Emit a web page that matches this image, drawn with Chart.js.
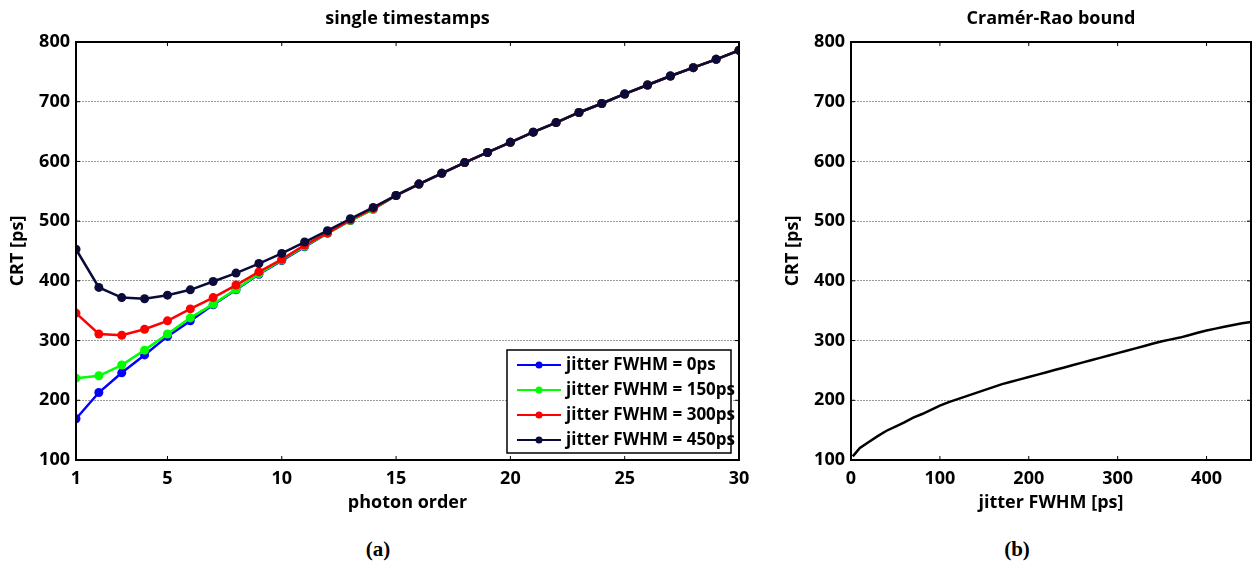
<!DOCTYPE html>
<html>
<head>
<meta charset="utf-8">
<script src="https://cdn.jsdelivr.net/npm/chart.js@4/dist/chart.umd.min.js"></script>
<style>
    body { margin: 0; background: #fff; width: 1254px; height: 567px; position: relative; overflow: hidden; }
    .painel { position: absolute; top: 0; height: 520px; }
    #painel-a { left: 0; width: 760px; }
    #painel-b { left: 770px; width: 484px; }
    .rotulo { position: absolute; top: 537px; font: bold 21px 'Liberation Serif', serif; transform: translateX(-50%); }
</style>
</head>
<body>
<div class="painel" id="painel-a"><canvas id="grafico-ordem"></canvas></div>
<div class="painel" id="painel-b"><canvas id="grafico-crb"></canvas></div>
<div class="rotulo" style="left:378px">(a)</div>
<div class="rotulo" style="left:1017px">(b)</div>

<script>
// Dados (a)
const ordemFoton = [1, 2, 3, 4, 5, 6, 7, 8, 9, 10, 11, 12, 13, 14, 15, 16, 17, 18, 19, 20, 21, 22, 23, 24, 25, 26, 27, 28, 29, 30];
const crtJitter0   = [169, 213, 246, 276, 307, 333, 360, 385, 411, 434, 457, 480, 501, 520, 543, 562, 580, 598, 615, 632, 649, 665, 682, 697, 713, 728, 743, 757, 771, 786];
const crtJitter150 = [237, 241, 259, 284, 311, 338, 361, 386, 412, 435, 458, 480, 501, 520, 543, 562, 580, 598, 615, 632, 649, 665, 682, 697, 713, 728, 743, 757, 771, 786];
const crtJitter300 = [346, 311, 309, 319, 333, 353, 372, 393, 415, 436, 460, 480, 502, 521, 543, 562, 580, 598, 615, 632, 649, 665, 682, 697, 713, 728, 743, 757, 771, 786];
const crtJitter450 = [453, 389, 372, 370, 376, 385, 399, 413, 429, 446, 465, 484, 504, 523, 543, 562, 580, 598, 615, 632, 649, 665, 682, 697, 713, 728, 743, 757, 771, 786];
const rotulosSeries = ['jitter FWHM = 0ps', 'jitter FWHM = 150ps', 'jitter FWHM = 300ps', 'jitter FWHM = 450ps'];
const ticksOrdem = [1, 5, 10, 15, 20, 25, 30];

// Dados (b)
const jitterFwhm = [2, 10, 20, 30, 40, 50, 60, 70, 80, 90, 100, 110, 120, 130, 140, 150, 160, 170, 180, 190, 200, 210, 220, 230, 240, 250, 260, 270, 280, 290, 300, 310, 320, 330, 340, 350, 360, 370, 380, 390, 400, 410, 420, 430, 440, 450];
const crbValores = [106, 120, 130, 140, 149, 156, 163, 171, 177, 184, 191, 197, 202, 207, 212, 217, 222, 227, 231, 235, 239, 243, 247, 251, 255, 259, 263, 267, 271, 275, 279, 283, 287, 291, 295, 299, 302, 305, 309, 313, 317, 320, 323, 326, 329, 331];
const ticksJitter = [0, 100, 200, 300, 400];

const FONTE = "'Open Sans', sans-serif";
Chart.defaults.font.family = FONTE;
Chart.defaults.color = '#000';

// Caixa preta em volta da área e marcas de tick para dentro (estilo MATLAB)
const molduraPlugin = {
    id: 'moldura',
    afterDraw(chart) {
        const { ctx, chartArea: a, scales } = chart;
        ctx.save();
        ctx.strokeStyle = '#000';
        ctx.lineWidth = 1;
        ctx.beginPath();
        scales.x.ticks.forEach(t => {
            const px = scales.x.getPixelForValue(t.value);
            ctx.moveTo(px, a.bottom); ctx.lineTo(px, a.bottom - 4);
            ctx.moveTo(px, a.top); ctx.lineTo(px, a.top + 4);
        });
        scales.y.ticks.forEach(t => {
            const py = scales.y.getPixelForValue(t.value);
            ctx.moveTo(a.left, py); ctx.lineTo(a.left + 4, py);
            ctx.moveTo(a.right, py); ctx.lineTo(a.right - 4, py);
        });
        ctx.stroke();
        ctx.lineWidth = 2;
        ctx.strokeRect(a.left, a.top, a.right - a.left, a.bottom - a.top);
        ctx.restore();
    }
};

// Legenda dentro da área, canto inferior direito
const legendaPlugin = {
    id: 'legendaInterna',
    afterDatasetsDraw(chart) {
        const { ctx, chartArea: a } = chart;
        const larg = 224, alt = 103;
        const x0 = a.right - 8 - larg;
        const y0 = a.bottom - 7 - alt;
        ctx.save();
        ctx.fillStyle = '#fff';
        ctx.fillRect(x0, y0, larg, alt);
        ctx.strokeStyle = '#000';
        ctx.lineWidth = 1.5;
        ctx.strokeRect(x0, y0, larg, alt);
        ctx.font = 'bold 17px ' + FONTE;
        ctx.textBaseline = 'middle';
        chart.data.datasets.forEach((ds, i) => {
            const y = y0 + 15 + i * 25;
            ctx.strokeStyle = ds.borderColor;
            ctx.lineWidth = 2;
            ctx.beginPath();
            ctx.moveTo(x0 + 10, y);
            ctx.lineTo(x0 + 54, y);
            ctx.stroke();
            ctx.fillStyle = ds.borderColor;
            ctx.beginPath();
            ctx.arc(x0 + 32, y, 3.5, 0, Math.PI * 2);
            ctx.fill();
            ctx.fillStyle = '#000';
            ctx.fillText(ds.label, x0 + 59, y);
        });
        ctx.restore();
    }
};

function fonteNegrito(tam) {
    return { family: FONTE, size: tam, weight: 'bold' };
}

function tituloTopo(texto) {
    // fullSize false: centralizado sobre a área do gráfico, como no MATLAB
    return { display: true, text: texto, fullSize: false, font: fonteNegrito(18), padding: { top: 8, bottom: 12.4 } };
}

function eixoY(larguraEixo, padTitulo) {
    return {
        type: 'linear',
        min: 100,
        max: 800,
        ticks: { stepSize: 100, padding: 6, font: fonteNegrito(18) },
        grid: { color: '#9a9a9a', lineWidth: 1, drawTicks: false },
        border: { display: false, dash: [2, 1] },
        title: { display: true, text: 'CRT [ps]', font: fonteNegrito(18), padding: { top: padTitulo, bottom: 0 } },
        afterFit(scale) { scale.width = larguraEixo; }
    };
}

function eixoX(min, max, valoresTicks, titulo) {
    return {
        type: 'linear',
        min: min,
        max: max,
        afterBuildTicks(scale) { scale.ticks = valoresTicks.map(v => ({ value: v })); },
        ticks: { padding: 8, font: fonteNegrito(18), autoSkip: false, maxRotation: 0 },
        grid: { display: false, drawTicks: false },
        border: { display: false },
        title: { display: true, text: titulo, font: fonteNegrito(18), padding: { top: 0, bottom: 6 } },
        afterFit(scale) { scale.height = 60; }
    };
}

const coresSeries = ['#0000ff', '#00ff00', '#ff0000', '#0b0b3b'];
const valoresSeries = [crtJitter0, crtJitter150, crtJitter300, crtJitter450];

new Chart(document.getElementById('grafico-ordem').getContext('2d'), {
    type: 'line',
    data: {
        datasets: valoresSeries.map((valores, i) => ({
            label: rotulosSeries[i],
            data: ordemFoton.map((x, k) => ({ x: x, y: valores[k] })),
            borderColor: coresSeries[i],
            backgroundColor: coresSeries[i],
            borderWidth: 2.5,
            pointRadius: 4.5,
            pointHoverRadius: 4.5,
            pointBorderWidth: 0,
            tension: 0,
            order: valoresSeries.length - i
        }))
    },
    options: {
        responsive: true,
        maintainAspectRatio: false,
        animation: false,
        layout: { padding: { top: 0, left: 0, right: 21, bottom: 0 } },
        plugins: {
            legend: { display: false },
            tooltip: { enabled: false },
            title: tituloTopo('single timestamps')
        },
        scales: {
            x: eixoX(1, 30, ticksOrdem, 'photon order'),
            y: eixoY(76, 7.2)
        }
    },
    plugins: [legendaPlugin, molduraPlugin]
});

new Chart(document.getElementById('grafico-crb').getContext('2d'), {
    type: 'line',
    data: {
        datasets: [{
            label: 'Cramér-Rao bound',
            data: jitterFwhm.map((x, k) => ({ x: x, y: crbValores[k] })),
            borderColor: '#000',
            borderWidth: 2.5,
            pointRadius: 0,
            tension: 0
        }]
    },
    options: {
        responsive: true,
        maintainAspectRatio: false,
        animation: false,
        layout: { padding: { top: 0, left: 0, right: 3, bottom: 0 } },
        plugins: {
            legend: { display: false },
            tooltip: { enabled: false },
            title: tituloTopo('Cramér-Rao bound')
        },
        scales: {
            x: eixoX(0, 450, ticksJitter, 'jitter FWHM [ps]'),
            y: eixoY(81, 12.2)
        }
    },
    plugins: [molduraPlugin]
});
</script>
</body>
</html>
